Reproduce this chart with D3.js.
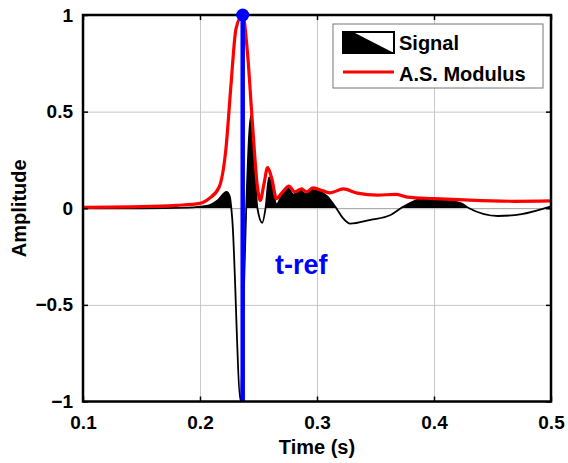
<!DOCTYPE html>
<html>
<head>
<meta charset="utf-8">
<script src="https://cdnjs.cloudflare.com/ajax/libs/d3/7.8.5/d3.min.js"></script>
<style>
  body { margin: 0; background: #fff; }
  text { font-family: "Liberation Sans", Arial, sans-serif; font-weight: bold; }
  .grid line { stroke: #c8c8c8; stroke-width: 1; }
  .grid path { display: none; }
  .frame path { display: none; }
  .frame line { stroke: #000; stroke-width: 1.5; }
  .ticklbl text { font-size: 19px; fill: #000; }
</style>
</head>
<body>
<div id="chart"></div>
<script>
// analytic signal modulus (red)
var modT = [0.1, 0.15, 0.18, 0.2, 0.2078, 0.2164, 0.2222, 0.2265, 0.2308, 0.2365, 0.2405, 0.2448, 0.2491, 0.2515,
            0.2545, 0.2578, 0.2615, 0.2653, 0.27, 0.276, 0.281, 0.2868, 0.2911, 0.2966, 0.3052, 0.3112, 0.3224,
            0.3345, 0.3517, 0.3672, 0.3773, 0.4, 0.426, 0.469, 0.5];
var modV = [0.005, 0.008, 0.015, 0.025, 0.05, 0.11, 0.31, 0.64, 0.93, 1.0, 0.81, 0.44, 0.11, 0.04,
            0.12, 0.21, 0.15, 0.05, 0.08, 0.115, 0.085, 0.10, 0.085, 0.105, 0.09, 0.08, 0.10,
            0.078, 0.068, 0.072, 0.058, 0.05, 0.043, 0.036, 0.038];

// signal (black)
var sigT = [0.1, 0.15, 0.19, 0.2, 0.2078, 0.215, 0.2227, 0.2255, 0.2275, 0.2348, 0.2372, 0.2395, 0.2437, 0.2491,
            0.2532, 0.256, 0.259, 0.2625, 0.2655, 0.27, 0.275, 0.28, 0.285, 0.29, 0.296, 0.303, 0.309, 0.313,
            0.3165, 0.322, 0.3284, 0.3457, 0.3629, 0.3716, 0.3914, 0.406, 0.4233, 0.43, 0.4549, 0.475, 0.5];
var sigV = [0, 0, 0.003, 0.008, 0.015, 0.04, 0.085, 0.06, -0.05, -1.0, -0.5, 0.0, 0.48, 0.0,
            -0.075, 0.0, 0.16, 0.08, 0.02, 0.07, 0.105, 0.07, 0.095, 0.075, 0.095, 0.085, 0.06, 0.03,
            0.0, -0.05, -0.08, -0.06, -0.035, 0.0, 0.05, 0.045, 0.025, 0.0, -0.04, -0.03, 0.01];

var tRef = 0.2365;
var xTicks = [0.1, 0.2, 0.3, 0.4, 0.5];
var yTicks = [-1, -0.5, 0, 0.5, 1];
var legendLabels = ["Signal", "A.S. Modulus"];

var W = 568, H = 463;
var margin = {top: 15, right: 17, bottom: 61.5, left: 83},
    width = W - margin.left - margin.right,
    height = H - margin.top - margin.bottom;

var x = d3.scaleLinear().domain([0.1, 0.5]).range([0, width]);
var y = d3.scaleLinear().domain([-1, 1]).range([height, 0]);

var svg = d3.select("#chart").append("svg")
    .attr("width", W)
    .attr("height", H);

var g = svg.append("g")
    .attr("transform", "translate(" + margin.left + "," + margin.top + ")");

// grid
g.append("g")
    .attr("class", "grid")
    .attr("transform", "translate(0," + height + ")")
    .call(d3.axisBottom(x).tickValues(xTicks).tickSize(-height).tickFormat(""));
g.append("g")
    .attr("class", "grid")
    .call(d3.axisLeft(y).tickValues(yTicks).tickSize(-width).tickFormat(""));

var sig = sigT.map(function(t, i) { return [t, sigV[i]]; });
var mod = modT.map(function(t, i) { return [t, modV[i]]; });

// positive part of the signal filled black
var defs = svg.append("defs");
defs.append("clipPath").attr("id", "posclip")
  .append("rect")
    .attr("x", 0).attr("y", 0)
    .attr("width", width).attr("height", y(0));

g.append("path")
    .datum(sig)
    .attr("clip-path", "url(#posclip)")
    .attr("fill", "#000")
    .attr("d", d3.area()
        .curve(d3.curveMonotoneX)
        .x(function(d) { return x(d[0]); })
        .y0(y(0))
        .y1(function(d) { return y(d[1]); }));

g.append("path")
    .datum(sig)
    .attr("fill", "none")
    .attr("stroke", "#000")
    .attr("stroke-width", 1.8)
    .attr("d", d3.line()
        .curve(d3.curveMonotoneX)
        .x(function(d) { return x(d[0]); })
        .y(function(d) { return y(d[1]); }));

g.append("path")
    .datum(mod)
    .attr("fill", "none")
    .attr("stroke", "#ff0000")
    .attr("stroke-width", 3.2)
    .attr("stroke-linejoin", "round")
    .attr("d", d3.line()
        .curve(d3.curveMonotoneX)
        .x(function(d) { return x(d[0]); })
        .y(function(d) { return y(d[1]); }));

// reference time
g.append("line")
    .attr("x1", x(tRef)).attr("x2", x(tRef))
    .attr("y1", y(-1)).attr("y2", y(1))
    .attr("stroke", "#0000ff")
    .attr("stroke-width", 4.5);

g.append("text")
    .attr("x", 192).attr("y", 259)
    .attr("fill", "#0000ff")
    .style("font-size", "27px")
    .text("t-ref");

// frame with inward ticks on all sides
function frame(axis, tr) {
  var a = g.append("g").attr("class", "frame ticklbl");
  if (tr) a.attr("transform", tr);
  a.call(axis);
  a.selectAll("text").attr("fill", "#000");
  return a;
}
frame(d3.axisBottom(x).tickValues(xTicks).tickSizeInner(-5).tickSizeOuter(0).tickPadding(14)
    .tickFormat(d3.format(".1f")), "translate(0," + height + ")");
frame(d3.axisTop(x).tickValues(xTicks).tickSizeInner(-5).tickSizeOuter(0).tickFormat(""));
frame(d3.axisLeft(y).tickValues(yTicks).tickSizeInner(-5).tickSizeOuter(0).tickPadding(10)
    .tickFormat(function(d) { return d === 0 || Math.abs(d) === 1 ? d3.format("d")(d) : d3.format(".1f")(d); }));
frame(d3.axisRight(y).tickValues(yTicks).tickSizeInner(-5).tickSizeOuter(0).tickFormat(""),
    "translate(" + width + ",0)");

g.append("rect")
    .attr("width", width).attr("height", height)
    .attr("fill", "none")
    .attr("stroke", "#000")
    .attr("stroke-width", 2.5);

g.append("circle")
    .attr("cx", x(tRef)).attr("cy", y(1))
    .attr("r", 6.5)
    .attr("fill", "#0000ff");

// axis titles
svg.append("text")
    .attr("x", margin.left + width / 2).attr("y", 454)
    .attr("text-anchor", "middle")
    .style("font-size", "20px")
    .text("Time (s)");

svg.append("text")
    .attr("transform", "translate(26," + (margin.top + height / 2) + ") rotate(-90)")
    .attr("text-anchor", "middle")
    .style("font-size", "20px")
    .text("Amplitude");

// legend
var lg = svg.append("g").attr("transform", "translate(333,24)");
lg.append("rect")
    .attr("width", 210).attr("height", 64)
    .attr("fill", "#fff")
    .attr("stroke", "#777")
    .attr("stroke-width", 1);
lg.append("rect")
    .attr("x", 10).attr("y", 8).attr("width", 51).attr("height", 21)
    .attr("fill", "#fff").attr("stroke", "#000").attr("stroke-width", 2);
lg.append("path")
    .attr("d", "M10,8 L20,8 L61,29 L10,29 Z")
    .attr("fill", "#000");
lg.append("line")
    .attr("x1", 10).attr("x2", 61).attr("y1", 48).attr("y2", 48)
    .attr("stroke", "#ff0000").attr("stroke-width", 3);
lg.selectAll("text.lab")
    .data(legendLabels)
  .enter().append("text")
    .attr("class", "lab")
    .attr("x", 66)
    .attr("y", function(d, i) { return 26 + i * 31; })
    .style("font-size", "20px")
    .text(function(d) { return d; });
</script>
</body>
</html>
